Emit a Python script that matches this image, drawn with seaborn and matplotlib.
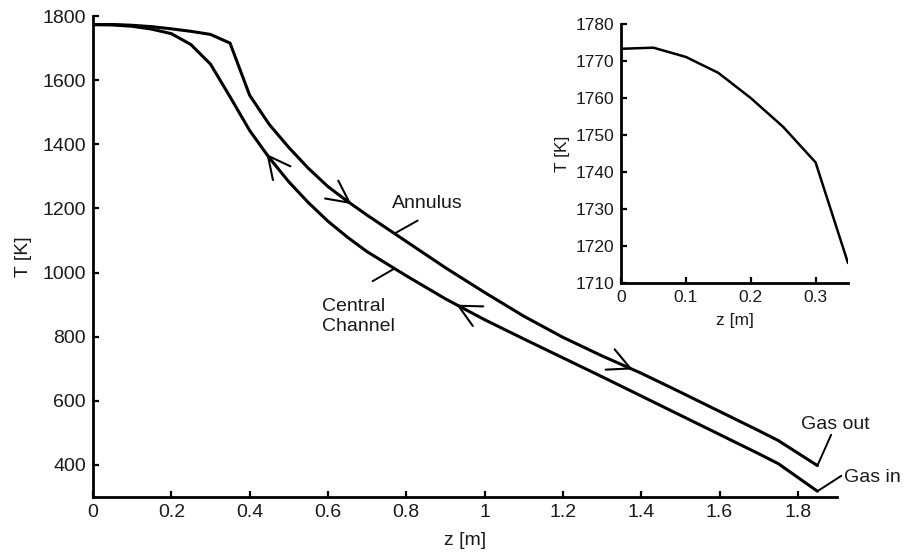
import numpy as np
import pandas as pd
import matplotlib
matplotlib.use("Agg")
import matplotlib.pyplot as plt
import seaborn as sns

# Axial position along the reactor [m]
z = [0.00, 0.05, 0.10, 0.15, 0.20, 0.25, 0.30, 0.35, 0.40, 0.45, 0.50, 0.55,
     0.60, 0.65, 0.70, 0.80, 0.90, 1.00, 1.10, 1.20, 1.30, 1.40, 1.50, 1.60,
     1.70, 1.75, 1.85]

# Gas temperature in the annulus [K]
T_annulus = [1773.3, 1773.6, 1771.1, 1766.8, 1760.0, 1752.2, 1742.6, 1715.4,
             1553, 1462, 1390, 1325, 1268, 1222, 1179, 1097, 1015, 938, 864,
             798, 740, 686, 627, 567, 507, 476, 398]

# Gas temperature in the central channel [K]
T_central = [1773, 1772, 1768, 1759, 1745, 1711, 1650, 1548, 1443, 1358, 1283,
             1218, 1160, 1110, 1065, 990, 918, 853, 793, 734, 675, 615, 555,
             495, 435, 404, 318]

main_xticks = [0, 0.2, 0.4, 0.6, 0.8, 1.0, 1.2, 1.4, 1.6, 1.8]
main_xlabels = ["0", "0.2", "0.4", "0.6", "0.8", "1", "1.2", "1.4", "1.6", "1.8"]
main_yticks = [400, 600, 800, 1000, 1200, 1400, 1600, 1800]
inset_xticks = [0, 0.1, 0.2, 0.3]
inset_xlabels = ["0", "0.1", "0.2", "0.3"]
inset_yticks = [1710, 1720, 1730, 1740, 1750, 1760, 1770, 1780]

sns.set_style("ticks")
plt.rcParams["font.family"] = ["Liberation Sans", "DejaVu Sans"]
TXT = "#1a1a1a"
FS = 14

df = pd.DataFrame({"z": z, "annulus": T_annulus, "central": T_central})

fig = plt.figure(figsize=(9.08, 5.57), dpi=100)
ax = fig.add_axes([93 / 908, 1 - 497 / 557, 744 / 908, 481 / 557])

line_kw = dict(color="black", linewidth=2.2, sort=False, estimator=None)
sns.lineplot(data=df, x="z", y="annulus", ax=ax, **line_kw)
sns.lineplot(data=df, x="z", y="central", ax=ax, **line_kw)


def style_axes(a, fs):
    sns.despine(ax=a)
    for s in ("left", "bottom"):
        a.spines[s].set_linewidth(2.0)
        a.spines[s].set_color("black")
    a.tick_params(direction="in", length=4.5, width=1.6, colors="black",
                  labelcolor=TXT, labelsize=fs, pad=5)


ax.set_xlim(0, 1.9)
ax.set_ylim(300, 1800)
ax.set_xticks(main_xticks)
ax.set_xticklabels(main_xlabels)
ax.set_yticks(main_yticks)
style_axes(ax, FS)
ax.set_xlabel("z [m]", fontsize=FS, color=TXT)
ax.set_ylabel("T [K]", fontsize=FS, color=TXT)
ax.xaxis.set_label_coords(0.5, -0.073)
ax.yaxis.set_label_coords(-0.082, 0.5)


def curve_T(zz, series):
    return float(np.interp(zz, df["z"], df[series]))


def flow_arrow(z_tip, series, forward):
    back = -0.03 if forward else 0.03
    ax.annotate("", xy=(z_tip, curve_T(z_tip, series)),
                xytext=(z_tip + back, curve_T(z_tip + back, series)),
                arrowprops=dict(arrowstyle="->,head_length=0.8,head_width=0.4",
                                color="black", lw=1.5, mutation_scale=20,
                                shrinkA=0, shrinkB=0))


# Flow directions: annulus gas moves towards +z, central channel gas towards -z
flow_arrow(0.66, "annulus", True)
flow_arrow(1.378, "annulus", True)
flow_arrow(0.443, "central", False)
flow_arrow(0.928, "central", False)


def leader(z_curve, series, z_end, T_end):
    ax.annotate("", xy=(z_curve, curve_T(z_curve, series)), xytext=(z_end, T_end),
                arrowprops=dict(arrowstyle="-", color="black", lw=1.4,
                                shrinkA=0, shrinkB=0),
                annotation_clip=False)


leader(0.770, "annulus", 0.829, 1162)
ax.text(0.763, 1216, "Annulus", fontsize=FS, color=TXT, ha="left", va="center")

leader(0.770, "central", 0.714, 973)
ax.text(0.584, 862, "Central\nChannel", fontsize=FS, color=TXT, ha="left",
        va="center", linespacing=1.25)

leader(1.85, "annulus", 1.885, 494)
ax.text(1.809, 527, "Gas out", fontsize=FS, color=TXT, ha="left", va="center")

leader(1.85, "central", 1.911, 366)
ax.text(1.918, 361, "Gas in", fontsize=FS, color=TXT, ha="left", va="center",
        clip_on=False)

# Inset: close-up of the annulus temperature near the hot end
ins = fig.add_axes([621 / 908, 1 - 283 / 557, 227 / 908, 259 / 557])
df_in = df[df["z"] <= 0.35]
sns.lineplot(data=df_in, x="z", y="annulus", ax=ins, color="black",
             linewidth=1.8, sort=False, estimator=None)
ins.set_xlim(0, 0.35)
ins.set_ylim(1710, 1780)
ins.set_xticks(inset_xticks)
ins.set_xticklabels(inset_xlabels)
ins.set_yticks(inset_yticks)
style_axes(ins, 12.5)
ins.set_xlabel("z [m]", fontsize=12.5, color=TXT)
ins.set_ylabel("T [K]", fontsize=12.5, color=TXT)
ins.xaxis.set_label_coords(0.5, -0.115)
ins.yaxis.set_label_coords(-0.225, 0.5)

fig.savefig("out.png", dpi=100)
